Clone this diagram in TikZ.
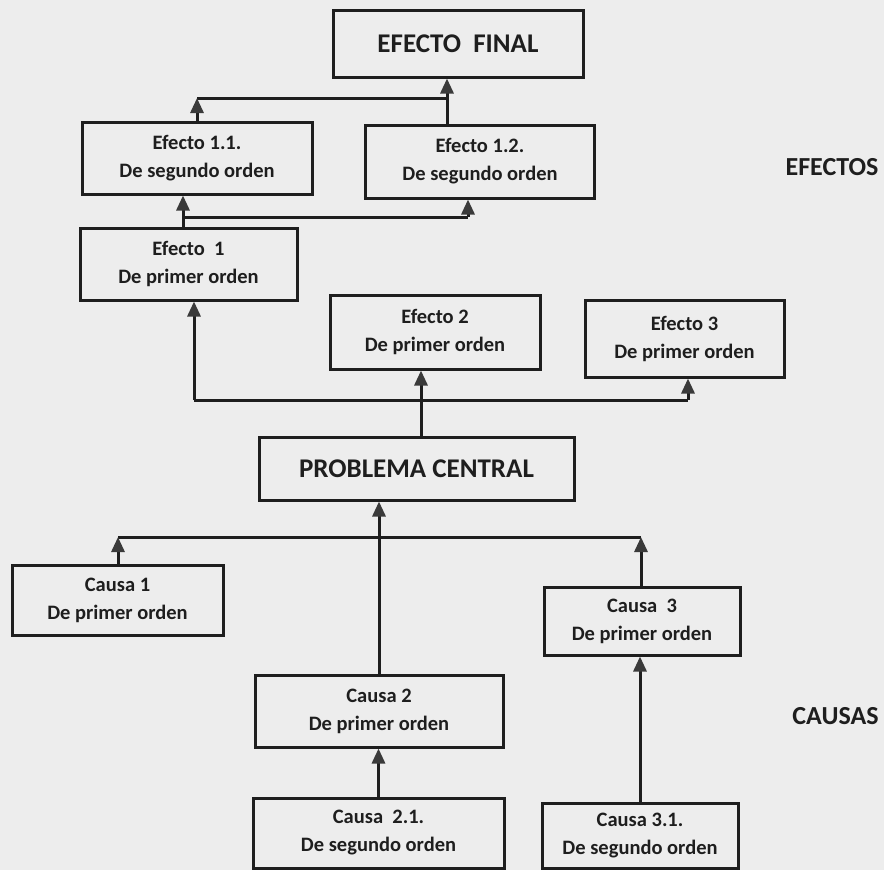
\documentclass[tikz,border=0pt]{standalone}
\usepackage{fontspec}
\setmainfont{Carlito}
\usetikzlibrary{arrows.meta}
\definecolor{bgc}{HTML}{EDEDED}
\definecolor{ink}{HTML}{1E1E1E}
\definecolor{tipc}{HTML}{3A3A3A}
\tikzset{
  box/.style={draw=ink, line width=3pt, fill=bgc, inner sep=0pt, align=center,
    text=ink, font=\fontsize{20.5}{28}\selectfont\bfseries},
  bigbox/.style={box, font=\fontsize{27}{32}\selectfont\bfseries},
  conn/.style={draw=ink, line width=3pt},
  arr/.style={conn, -{Triangle[width=13pt,length=15pt,color=tipc]}},
  side/.style={text=ink, font=\fontsize{26}{30}\selectfont\bfseries, inner sep=0pt}
}
\begin{document}
\begin{tikzpicture}[x=1pt,y=-1pt]
\fill[bgc] (0,0) rectangle (884,870);
\useasboundingbox (0,0) rectangle (884,870);

% effects
\node[bigbox, minimum width=250pt, minimum height=67pt] (EF) at (458,43.5) {EFECTO\ \ FINAL};
\node[box, minimum width=230pt, minimum height=72pt] (E11) at (197,158) {Efecto 1.1.\\De segundo orden};
\node[box, minimum width=229pt, minimum height=73pt] (E12) at (480,161.5) {Efecto 1.2.\\De segundo orden};
\node[box, minimum width=217pt, minimum height=72pt] (E1) at (188.5,264) {Efecto\ \ 1\\De primer orden};
\node[box, minimum width=210pt, minimum height=74pt] (E2) at (435,332) {Efecto 2\\De primer orden};
\node[box, minimum width=199pt, minimum height=77pt] (E3) at (684.5,338.5) {Efecto 3\\De primer orden};

% central
\node[bigbox, minimum width=315pt, minimum height=63pt] (PC) at (416.5,468.5) {PROBLEMA CENTRAL};

% causes
\node[box, minimum width=211pt, minimum height=70pt] (C1) at (117.5,600) {Causa 1\\De primer orden};
\node[box, minimum width=196pt, minimum height=68pt] (C3) at (642,621) {Causa\ \ 3\\De primer orden};
\node[box, minimum width=248pt, minimum height=72pt] (C2) at (379,711) {Causa 2\\De primer orden};
\node[box, minimum width=251pt, minimum height=70pt] (C21) at (378.5,833) {Causa\ \ 2.1.\\De segundo orden};
\node[box, minimum width=196pt, minimum height=65pt] (C31) at (640,835.5) {Causa 3.1.\\De segundo orden};

% side labels
\node[side] (EFS) at (832,167.5) {EFECTOS};
\node[side] (CAS) at (835.5,716.5) {CAUSAS};

% junction coordinates
\coordinate (j1) at (447,98);
\coordinate (j3) at (183,217);
\coordinate (j4) at (468,217);
\coordinate (j5) at (194,400);
\coordinate (j6) at (688,400);
\coordinate (j7) at (421,400);
\coordinate (k1) at (118,537);
\coordinate (k2) at (641,537);

% top level connectors
\draw[arr] (E12.north -| j1) -- (EF.south -| j1);
\draw[conn] (j1) -- (E11.north |- j1);
\draw[arr] (E11.north) -- (E11.north |- j1);

% second order connectors
\draw[arr] (E1.north -| j3) -- (E11.south -| j3);
\draw[conn] (j3) -- (j4);
\draw[arr] (j4) -- (E12.south -| j4);

% first order effects
\draw[arr] (PC.north -| j7) -- (E2.south -| j7);
\draw[conn] (j5) -- (j6);
\draw[arr] (j5) -- (E1.south -| j5);
\draw[arr] (j6) -- (E3.south -| j6);

% causes
\draw[arr] (C2.north) -- (PC.south -| C2.north);
\draw[conn] (k1) -- (k2);
\draw[arr] (C1.north -| k1) -- (k1);
\draw[arr] (C3.north -| k2) -- (k2);
\draw[arr] (C21.north) -- (C2.south -| C21.north);
\draw[arr] (C31.north) -- (C3.south -| C31.north);
\end{tikzpicture}
\end{document}
